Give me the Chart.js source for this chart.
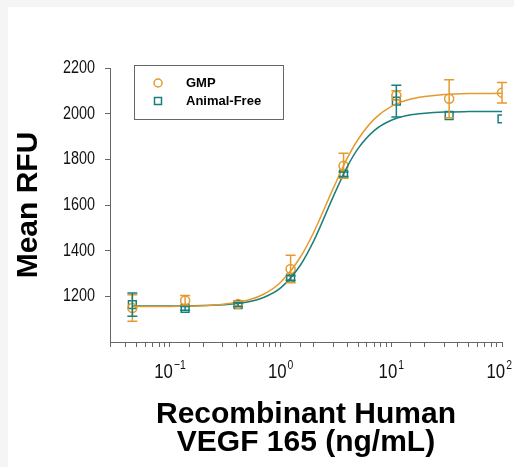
<!DOCTYPE html>
<html>
<head>
<meta charset="utf-8">
<script src="https://cdn.jsdelivr.net/npm/chart.js@4"></script>
<style>
  html, body { margin: 0; padding: 0; background: #fff; }
  #wrap { width: 514px; height: 467px; }
</style>
</head>
<body>
<div id="wrap"><canvas id="myChart" width="514" height="467"></canvas></div>
<script>
// measured points (ng/mL) with mean and error
const conc = [0.0457, 0.137, 0.412, 1.23, 3.7, 11.1, 33.3, 100];
const gmpMean = [1149, 1182, 1166, 1320, 1772, 2080, 2065, 2092];
const gmpErr = [58, 22, 8, 60, 55, 20, 83, 45];
const afMean = [1164, 1147, 1164, 1280, 1735, 2055, 1992, 1977];
const afErr = [51, 8, 8, 10, 10, 70, 0, 0];

// fitted curves
const fitConc = [0.0457, 0.1, 0.2, 0.3, 0.5, 0.7, 1, 1.5, 2, 3, 4, 5, 7, 10, 15, 20, 30, 50, 100];
const gmpFit = [1155, 1156, 1159, 1165, 1183, 1209, 1262, 1370, 1483, 1675, 1805, 1887, 1976, 2032, 2064, 2075, 2084, 2088, 2089];
const afFit = [1158, 1158, 1160, 1163, 1175, 1195, 1237, 1335, 1445, 1639, 1768, 1847, 1926, 1971, 1995, 2002, 2007, 2009, 2010];

const seriesNames = ['GMP', 'Animal-Free'];
const yTicks = [1200, 1400, 1600, 1800, 2000, 2200];
const xDecades = [-1, 0, 1, 2];

const orange = '#E59A2E';
const teal = '#187F7B';
const axisGray = '#666';
const narrow = 0.8; // squeeze to mimic a condensed face

const pts = (xs, ys) => xs.map((x, i) => ({ x: x, y: ys[i] }));

function squeezedText(c, txt, x, y, align) {
    const w = c.measureText(txt).width * narrow;
    let left = x;
    if (align === 'right') left = x - w;
    if (align === 'center') left = x - w / 2;
    c.save();
    c.translate(left, y);
    c.scale(narrow, 1);
    c.textAlign = 'left';
    c.fillText(txt, 0, 0);
    c.restore();
    return w;
}

const background = {
    id: 'background',
    beforeDraw(chart) {
        const c = chart.ctx;
        c.save();
        c.fillStyle = '#f5f5f5';
        c.fillRect(0, 0, chart.width, chart.height);
        c.fillStyle = '#fff';
        c.fillRect(8, 7, chart.width - 8, chart.height - 7);
        c.restore();
    }
};

const errorBars = {
    id: 'errorBars',
    afterDatasetsDraw(chart) {
        const c = chart.ctx;
        const xs = chart.scales.x, ys = chart.scales.y;
        chart.data.datasets.forEach((ds) => {
            if (!ds.errors) return;
            c.save();
            c.strokeStyle = ds.borderColor;
            c.lineWidth = 1.5;
            ds.data.forEach((p, i) => {
                const e = ds.errors[i];
                if (!e) return;
                const px = xs.getPixelForValue(p.x);
                const top = ys.getPixelForValue(p.y + e);
                const bot = ys.getPixelForValue(p.y - e);
                c.beginPath();
                c.moveTo(px, top); c.lineTo(px, bot);
                c.moveTo(px - 5, top); c.lineTo(px + 5, top);
                c.moveTo(px - 5, bot); c.lineTo(px + 5, bot);
                c.stroke();
            });
            c.restore();
        });
    }
};

const tickLabels = {
    id: 'tickLabels',
    afterDraw(chart) {
        const c = chart.ctx;
        const xs = chart.scales.x, ys = chart.scales.y;
        const big = '21px "Liberation Sans", Arial, sans-serif';
        const small = '13px "Liberation Sans", Arial, sans-serif';
        c.save();
        c.fillStyle = '#111';
        c.textBaseline = 'alphabetic';
        xDecades.forEach((d) => {
            const px = xs.getPixelForValue(Math.pow(10, d));
            const exp = String(d).replace('-', '\u2212');
            c.font = big;
            const wb = c.measureText('10').width * narrow;
            c.font = small;
            const we = c.measureText(exp).width * narrow;
            const left = Math.min(px - (wb + we + 1) / 2, 512 - (wb + we + 1));
            c.font = big;
            squeezedText(c, '10', left, 378, 'left');
            c.font = small;
            squeezedText(c, exp, left + wb + 1, 369, 'left');
        });
        c.font = '18px "Liberation Sans", Arial, sans-serif';
        c.textBaseline = 'middle';
        yTicks.forEach((v) => {
            squeezedText(c, String(v), 95, ys.getPixelForValue(v), 'right');
        });
        c.restore();
    }
};

const legendBox = {
    id: 'legendBox',
    afterDraw(chart) {
        const c = chart.ctx;
        c.save();
        c.strokeStyle = axisGray;
        c.lineWidth = 1;
        c.strokeRect(134.5, 65.5, 149, 54);
        c.lineWidth = 1.5;
        c.strokeStyle = orange;
        c.beginPath();
        c.arc(158, 83, 4, 0, Math.PI * 2);
        c.stroke();
        c.strokeStyle = teal;
        c.strokeRect(154.5, 97.5, 7, 7);
        c.fillStyle = '#000';
        c.font = 'bold 13px "Liberation Sans", Arial, sans-serif';
        c.textBaseline = 'middle';
        c.textAlign = 'left';
        c.fillText(seriesNames[0], 186, 83);
        c.fillText(seriesNames[1], 186, 101);
        c.restore();
    }
};

const data = {
    datasets: [
        {
            label: seriesNames[0] + ' fit',
            data: pts(fitConc, gmpFit),
            showLine: true,
            borderColor: orange,
            borderWidth: 1.5,
            pointRadius: 0,
            cubicInterpolationMode: 'monotone'
        },
        {
            label: seriesNames[1] + ' fit',
            data: pts(fitConc, afFit),
            showLine: true,
            borderColor: teal,
            borderWidth: 1.5,
            pointRadius: 0,
            cubicInterpolationMode: 'monotone'
        },
        {
            label: seriesNames[0],
            data: pts(conc, gmpMean),
            errors: gmpErr,
            borderColor: orange,
            backgroundColor: 'rgba(0,0,0,0)',
            pointStyle: 'circle',
            pointRadius: 4.5,
            borderWidth: 1.5
        },
        {
            label: seriesNames[1],
            data: pts(conc, afMean),
            errors: afErr,
            borderColor: teal,
            backgroundColor: 'rgba(0,0,0,0)',
            pointStyle: 'rect',
            pointRadius: 5.5,
            borderWidth: 1.5
        }
    ]
};

const config = {
    type: 'scatter',
    data: data,
    plugins: [background, errorBars, tickLabels, legendBox],
    options: {
        responsive: false,
        animation: false,
        layout: { padding: { top: 68, right: 12, left: 0, bottom: 0 } },
        plugins: {
            legend: { display: false },
            tooltip: { enabled: false }
        },
        scales: {
            x: {
                type: 'logarithmic',
                min: 0.0287,
                max: 100,
                border: { color: axisGray, width: 1 },
                grid: {
                    drawOnChartArea: false,
                    drawTicks: true,
                    tickLength: 5,
                    color: axisGray
                },
                ticks: { display: false },
                title: {
                    display: true,
                    text: ['Recombinant Human', 'VEGF 165 (ng/mL)'],
                    color: '#000',
                    font: { family: '"Liberation Sans", Arial, sans-serif', size: 30, weight: 'bold', lineHeight: 0.95 },
                    padding: { top: 0, bottom: 10 }
                },
                afterFit: (s) => { s.height = 125; }
            },
            y: {
                min: 1000,
                max: 2200,
                border: { color: axisGray, width: 1 },
                grid: {
                    drawOnChartArea: false,
                    drawTicks: true,
                    tickLength: 5,
                    color: axisGray
                },
                afterBuildTicks: (s) => { s.ticks = yTicks.map((v) => ({ value: v })); },
                ticks: { display: false },
                title: {
                    display: true,
                    text: 'Mean RFU',
                    color: '#000',
                    font: { family: '"Liberation Sans", Arial, sans-serif', size: 30, weight: 'bold' },
                    padding: { top: 11, bottom: 0 }
                },
                afterFit: (s) => { s.width = 110; }
            }
        }
    }
};

new Chart(document.getElementById('myChart'), config);
</script>
</body>
</html>
